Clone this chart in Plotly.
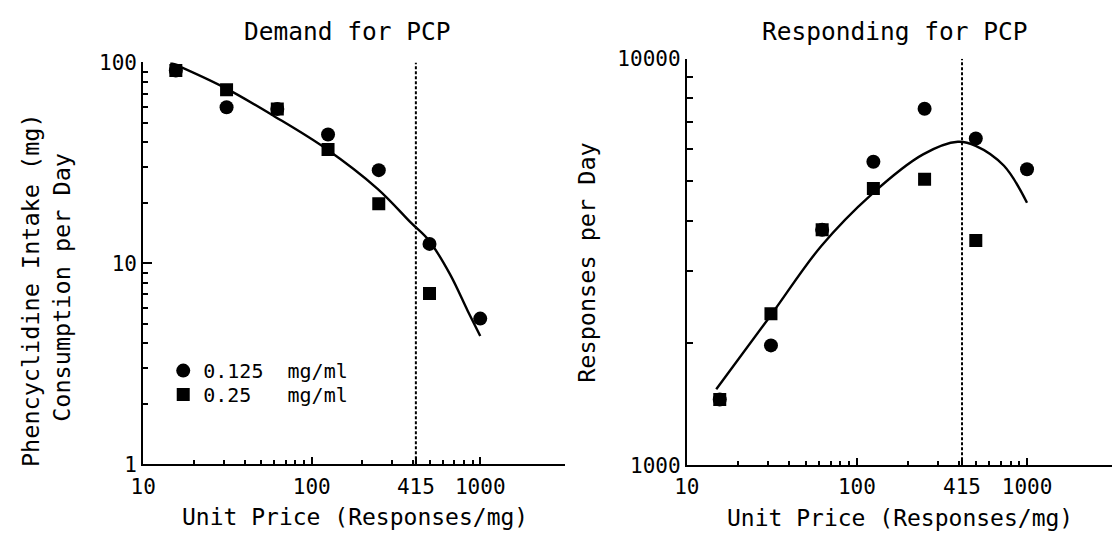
import plotly.graph_objects as go

# ---------------- data ----------------
unit_price = [15.625, 31.25, 62.5, 125, 250, 500, 1000]

# Demand (consumption, mg/day)
intake_0125 = [91.2, 59.8, 58.7, 43.8, 29.1, 12.5, 5.31]
intake_025 = [91.2, 73.0, 58.7, 36.9, 19.8, 7.08]

# Responding (responses/day)
resp_0125 = [1452, 1972, 3796, 5582, 7535, 6367, 5349]
resp_025 = [1452, 2360, 3796, 4797, 5058, 3574]

# fitted curves
demand_curve_x = [14.5, 30, 60.5, 121, 246, 389, 496, 661, 843, 1000]
demand_curve_y = [100, 75.3, 53.7, 37.3, 23.5, 15.9, 13.0, 8.84, 5.8, 4.35]
resp_curve_x = [14.9, 31.3, 61.6, 122, 245, 392, 499, 732, 1000]
resp_curve_y = [1538, 2344, 3460, 4643, 5820, 6250, 6110, 5456, 4426]

PMAX = 415
left_y_span = [1, 100]
right_y_span = [1000, 10000]

x_ticks = [10, 100, 415, 1000]
x_ticktext = ["10", "100", "415", "1000"]
x_minor = [20, 30, 40, 50, 60, 70, 80, 90, 200, 300, 400, 500, 600, 700, 800, 900]
left_y_ticks = [1, 10, 100]
left_y_minor = [2, 3, 4, 5, 6, 7, 8, 9, 20, 30, 40, 50, 60, 70, 80, 90]
right_y_ticks = [1000, 10000]
right_y_minor = [2000, 3000, 4000, 5000, 6000, 7000, 8000, 9000]

FONT = "DejaVu Sans Mono"
W, H = 1118, 549

fig = go.Figure()

# ---- left panel ----
fig.add_trace(go.Scatter(x=demand_curve_x, y=demand_curve_y, mode="lines",
                         line=dict(color="black", width=2.4, shape="spline", smoothing=1.0),
                         showlegend=False, xaxis="x", yaxis="y"))
fig.add_trace(go.Scatter(x=[PMAX, PMAX], y=left_y_span, mode="lines",
                         line=dict(color="black", width=2, dash="3px,2px"),
                         showlegend=False, xaxis="x", yaxis="y"))
fig.add_trace(go.Scatter(x=unit_price[:len(intake_0125)], y=intake_0125, mode="markers",
                         marker=dict(symbol="circle", size=14, color="black"),
                         name="0.125\u00a0\u00a0mg/ml", legend="legend", xaxis="x", yaxis="y"))
fig.add_trace(go.Scatter(x=unit_price[:len(intake_025)], y=intake_025, mode="markers",
                         marker=dict(symbol="square", size=13, color="black"),
                         name="0.25\u00a0\u00a0\u00a0mg/ml", legend="legend2", xaxis="x", yaxis="y"))

# ---- right panel ----
fig.add_trace(go.Scatter(x=resp_curve_x, y=resp_curve_y, mode="lines",
                         line=dict(color="black", width=2.4, shape="spline", smoothing=1.0),
                         showlegend=False, xaxis="x2", yaxis="y2"))
fig.add_trace(go.Scatter(x=[PMAX, PMAX], y=right_y_span, mode="lines",
                         line=dict(color="black", width=2, dash="3px,2px"),
                         showlegend=False, xaxis="x2", yaxis="y2"))
fig.add_trace(go.Scatter(x=unit_price[:len(resp_0125)], y=resp_0125, mode="markers",
                         marker=dict(symbol="circle", size=14, color="black"),
                         showlegend=False, xaxis="x2", yaxis="y2"))
fig.add_trace(go.Scatter(x=unit_price[:len(resp_025)], y=resp_025, mode="markers",
                         marker=dict(symbol="square", size=13, color="black"),
                         showlegend=False, xaxis="x2", yaxis="y2"))

def xaxis(domain, anchor, rng):
    return dict(type="log", domain=domain, anchor=anchor, range=rng,
                showgrid=False, zeroline=False, showline=True, linecolor="black", linewidth=2,
                ticks="inside", ticklen=7, tickwidth=1.5, tickcolor="black",
                tickvals=x_ticks, ticktext=x_ticktext, ticklabelstandoff=2,
                tickfont=dict(family=FONT, size=21, color="black"),
                minor=dict(tickvals=x_minor, ticks="inside", ticklen=4, tickwidth=1.5, tickcolor="black"))

def yaxis(domain, anchor, rng, tv, mv, mlen):
    return dict(type="log", domain=domain, anchor=anchor, range=rng,
                showgrid=False, zeroline=False, showline=True, linecolor="black", linewidth=2,
                ticks="inside", ticklen=9, tickwidth=1.5, tickcolor="black",
                tickvals=tv, ticktext=[str(v) for v in tv],
                tickfont=dict(family=FONT, size=21, color="black"),
                minor=dict(tickvals=mv, ticks="inside", ticklen=mlen, tickwidth=1.5, tickcolor="black"))

leg_font = dict(family=FONT, size=20, color="black")
fig.update_layout(
    width=W, height=H,
    margin=dict(l=0, r=0, t=0, b=0),
    paper_bgcolor="white", plot_bgcolor="white",
    font=dict(family=FONT, color="black"),
    xaxis=xaxis([131.7 / W, 558 / W], "y", [1, 3.5]),
    yaxis=yaxis([(H - 473) / H, (H - 52.7) / H], "x", [0, 2], left_y_ticks, left_y_minor, 5),
    xaxis2=xaxis([681.7 / W, 1112 / W], "y2", [1, 3.5]),
    yaxis2=yaxis([(H - 474) / H, (H - 49) / H], "x2", [3, 4], right_y_ticks, right_y_minor, 6),
    legend=dict(x=152 / W, y=1 - 375 / H, xanchor="left", yanchor="middle",
                font=leg_font, bgcolor="rgba(0,0,0,0)", itemwidth=30, borderwidth=0),
    legend2=dict(x=152 / W, y=1 - 400 / H, xanchor="left", yanchor="middle",
                 font=leg_font, bgcolor="rgba(0,0,0,0)", itemwidth=30, borderwidth=0),
)

def ann(text, x, y, size, angle=0):
    fig.add_annotation(text=text, x=x / W, y=1 - y / H, xref="paper", yref="paper",
                       showarrow=False, textangle=angle, xanchor="center", yanchor="middle",
                       font=dict(family=FONT, size=size, color="black"))

ann("Demand for PCP", 338, 20, 24.5)
ann("Responding for PCP", 892, 20, 24.5)
ann("Unit Price (Responses/mg)", 346, 528, 23)
ann("Unit Price (Responses/mg)", 897, 529, 23)
ann("Phencyclidine Intake (mg)", 18, 291, 23.5, -90)
ann("Consumption per Day", 50, 288, 23.5, -90)
ann("Responses per Day", 580, 262, 23.5, -90)

fig.write_html("out.html", config={"displayModeBar": False},
               post_script="document.body.style.margin='0';document.body.style.overflow='hidden';")
